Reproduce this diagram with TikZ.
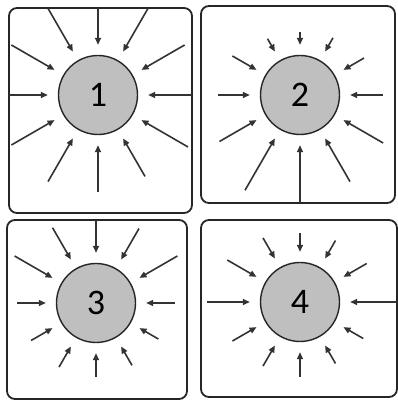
\documentclass[tikz,border=0pt]{standalone}
\usepackage{fontspec}
\setmainfont{Carlito}
\usepackage{xcolor}
\usetikzlibrary{arrows.meta,calc}

\begin{document}
\begin{tikzpicture}[
  x=1pt, y=1pt,
  panel/.style={draw=black!85, line width=1.8pt, rounded corners=8pt},
  sun/.style={circle, draw=black!85, line width=1.4pt, fill=gray!50,
              minimum size=79pt, inner sep=0pt, font=\fontsize{36}{36}\selectfont},
  ray/.style={-{Triangle[length=7pt,width=6pt]}, line width=1.6pt, draw=black!80,
              shorten >=10pt}
]
\useasboundingbox (0,0) rectangle (398,401);
% the four panels
\draw[panel] (9,188) rectangle (192,393);
\draw[panel] (201,198) rectangle (395,395);
\draw[panel] (7,2) rectangle (187,181);
\draw[panel] (201,4) rectangle (397,181);
% circles
\node[sun] (c1) at (98,306) {1};
\node[sun] (c2) at (300,306) {2};
\node[sun] (c3) at (96,98) {3};
\node[sun] (c4) at (300,99) {4};
% rays, angle/outer length
\foreach \a/\r in {0/94,30/100,60/100,90/87,120/100,150/100,180/89,210/100,240/100,270/97,300/94,330/104}
  \draw[ray] ($(c1)+(\a:\r)$) -- (c1);
\foreach \a/\r in {0/83,30/74,60/66,90/63,120/65,150/78,180/82,210/93,240/110,270/108,300/100,330/96}
  \draw[ray] ($(c2)+(\a:\r)$) -- (c2);
\foreach \a/\r in {0/79,30/94,60/86,90/83,120/87,150/94,180/79,210/75,240/74,270/74,300/72,330/72}
  \draw[ray] ($(c3)+(\a:\r)$) -- (c3);
\foreach \a/\r in {0/97,30/77,60/71,90/69,120/74,150/84,180/93,210/78,240/74,270/75,300/71,330/73}
  \draw[ray] ($(c4)+(\a:\r)$) -- (c4);
\end{tikzpicture}
\end{document}
